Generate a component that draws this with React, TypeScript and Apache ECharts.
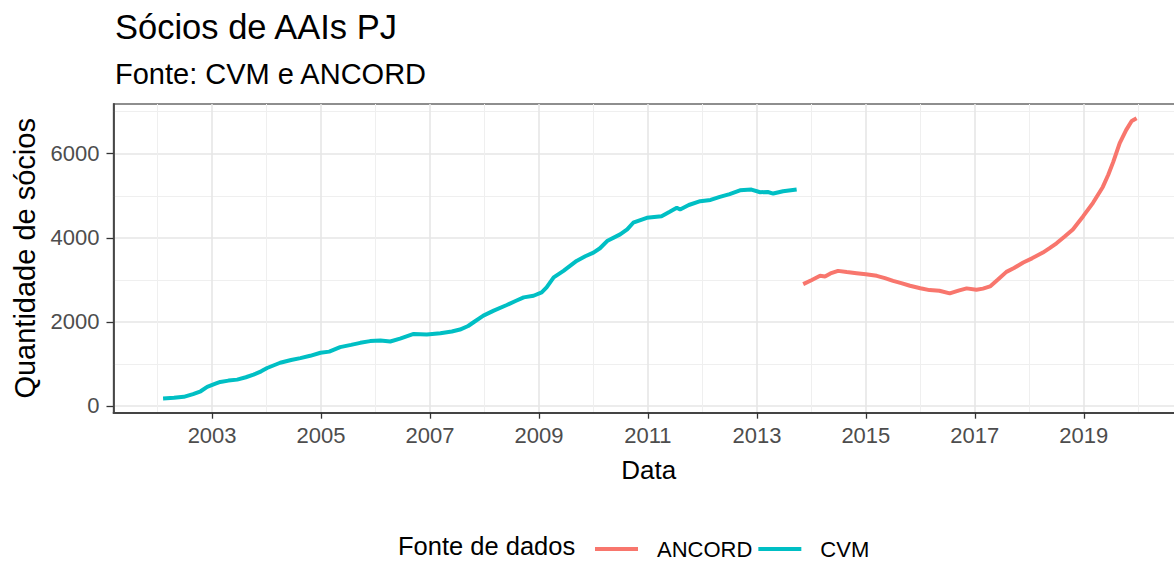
import React, { useEffect, useRef } from "react";
import * as echarts from "echarts";

// ---- Data (decimal years, number of partners) ----
const cvmYears = [
  2002.1, 2002.3, 2002.48, 2002.65, 2002.79, 2002.91, 2003.05, 2003.15, 2003.3, 2003.46,
  2003.62, 2003.76, 2003.9, 2004.01, 2004.25, 2004.45, 2004.62, 2004.8, 2004.99, 2005.15,
  2005.35, 2005.55, 2005.72, 2005.9, 2006.09, 2006.27, 2006.45, 2006.7, 2006.94, 2007.19,
  2007.4, 2007.55, 2007.7, 2007.8, 2007.98, 2008.17, 2008.41, 2008.58, 2008.72, 2008.9,
  2009.05, 2009.14, 2009.27, 2009.45, 2009.69, 2009.85, 2010.0, 2010.12, 2010.25, 2010.49,
  2010.62, 2010.73, 2010.98, 2011.25, 2011.4, 2011.53, 2011.59, 2011.75, 2011.96, 2012.15,
  2012.32, 2012.5, 2012.69, 2012.9, 2013.06, 2013.2, 2013.3, 2013.48, 2013.73,
];
const cvmValues = [
  175, 190, 213, 280, 346, 450, 520, 568, 600, 623,
  680, 741, 820, 900, 1025, 1090, 1136, 1190, 1262, 1290,
  1397, 1450, 1499, 1540, 1554, 1530, 1600, 1712, 1700, 1729,
  1770, 1815, 1900, 1989, 2146, 2265, 2400, 2500, 2581, 2620,
  2700, 2818, 3055, 3212, 3449, 3560, 3647, 3750, 3922, 4081,
  4200, 4358, 4476, 4514, 4620, 4713, 4673, 4780, 4870, 4900,
  4974, 5040, 5130, 5147, 5083, 5090, 5052, 5106, 5147,
];
const ancordYears = [
  2013.85, 2014.0, 2014.16, 2014.25, 2014.35, 2014.49, 2014.65, 2014.83, 2015.0, 2015.2,
  2015.35, 2015.5, 2015.65, 2015.81, 2016.0, 2016.17, 2016.35, 2016.54, 2016.7, 2016.85,
  2017.03, 2017.15, 2017.28, 2017.42, 2017.58, 2017.72, 2017.89, 2018.05, 2018.25, 2018.38,
  2018.5, 2018.65, 2018.8, 2018.99, 2019.17, 2019.35, 2019.45, 2019.54, 2019.66, 2019.78,
  2019.88, 2019.97,
];
const ancordValues = [
  2897, 2990, 3094, 3079, 3150, 3212, 3185, 3157, 3130, 3094,
  3040, 2975, 2920, 2857, 2800, 2754, 2738, 2676, 2740, 2795,
  2762, 2790, 2842, 3000, 3188, 3280, 3411, 3510, 3647, 3760,
  3868, 4030, 4199, 4514, 4832, 5210, 5500, 5800, 6253, 6568,
  6780, 6845,
];

const seriesNames = ["ANCORD", "CVM"];
const seriesColors = ["#F8766D", "#00BFC4"];
const xMajorTicks = [2003, 2005, 2007, 2009, 2011, 2013, 2015, 2017, 2019];
const xMinorTicks = [2002, 2004, 2006, 2008, 2010, 2012, 2014, 2016, 2018, 2020];
const yMajorTicks = [0, 2000, 4000, 6000];
const yMinorTicks = [1000, 3000, 5000, 7000];

const X_MIN = 2001.19;
const X_MAX = 2020.84;
const Y_MIN = -164;
const Y_MAX = 7184;

const FONT = "'Liberation Sans', Arial, Helvetica, sans-serif";

export default function App() {
  const ref = useRef<HTMLDivElement>(null);

  useEffect(() => {
    if (!ref.current) return;
    const chart = echarts.init(ref.current, undefined, { renderer: "svg" });

    const toPairs = (xs: number[], ys: number[]) => xs.map((x, i) => [x, ys[i]]);

    const option: any = {
      animation: false,
      backgroundColor: "#ffffff",
      textStyle: { fontFamily: FONT },
      title: {
        text: "Sócios de AAIs PJ",
        subtext: "Fonte: CVM e ANCORD",
        left: 110,
        top: 4,
        itemGap: 15,
        textStyle: { fontFamily: FONT, fontSize: 34.5, fontWeight: "normal", color: "#000000" },
        subtextStyle: { fontFamily: FONT, fontSize: 29, color: "#000000" },
      },
      legend: {
        data: seriesNames,
        left: 590,
        top: 533,
        itemWidth: 43,
        itemHeight: 4,
        itemGap: 6,
        icon: "rect",
        formatter: (name: string) => `{g|}{n|${name}}`,
        textStyle: {
          fontFamily: FONT,
          fontSize: 22,
          color: "#000000",
          rich: {
            g: { width: 14, height: 22 },
            n: { fontFamily: FONT, fontSize: 22, color: "#000000", height: 22 },
          },
        },
      },
      graphic: [
        {
          type: "text",
          x: 398,
          y: 546,
          style: {
            text: "Fonte de dados",
            font: `25.5px ${FONT}`,
            fill: "#000000",
            verticalAlign: "middle",
            align: "left",
          },
        },
      ],
      grid: {
        left: 113.5,
        right: 16,
        top: 104,
        bottom: 148.3,
        show: true,
        borderColor: "#6a6a6a",
        borderWidth: 1.4,
        backgroundColor: "transparent",
      },
      xAxis: [
        {
          type: "value",
          min: X_MIN,
          max: X_MAX,
          name: "Data",
          nameLocation: "middle",
          nameGap: 44,
          nameTextStyle: { fontFamily: FONT, fontSize: 26, color: "#000000" },
          axisLine: { show: true, onZero: false, lineStyle: { color: "#444444", width: 1.8 } },
          axisTick: { show: true, length: 6, lineStyle: { color: "#333333", width: 1.3 }, customValues: xMajorTicks },
          axisLabel: {
            show: true,
            margin: 12,
            fontFamily: FONT,
            fontSize: 22,
            color: "#4D4D4D",
            customValues: xMajorTicks,
            formatter: (v: number) => String(Math.round(v)),
          },
          splitLine: { show: true, lineStyle: { color: "#E6E6E6", width: 1.6 } },
        },
        {
          type: "value",
          min: X_MIN,
          max: X_MAX,
          position: "top",
          axisLine: { show: false },
          axisTick: { show: false, customValues: xMinorTicks },
          axisLabel: { show: false, customValues: xMinorTicks },
          splitLine: { show: true, lineStyle: { color: "#EFEFEF", width: 1 } },
        },
      ],
      yAxis: [
        {
          type: "value",
          min: Y_MIN,
          max: Y_MAX,
          name: "Quantidade de sócios",
          nameLocation: "middle",
          nameRotate: 90,
          nameGap: 74,
          nameTextStyle: { fontFamily: FONT, fontSize: 29, color: "#000000" },
          axisLine: { show: true, lineStyle: { color: "#444444", width: 1.8 } },
          axisTick: { show: true, length: 7, lineStyle: { color: "#333333", width: 1.3 }, customValues: yMajorTicks },
          axisLabel: {
            show: true,
            margin: 14,
            fontFamily: FONT,
            fontSize: 22,
            color: "#4D4D4D",
            customValues: yMajorTicks,
            formatter: (v: number) => String(Math.round(v)),
          },
          splitLine: { show: true, lineStyle: { color: "#E6E6E6", width: 1.6 } },
        },
        {
          type: "value",
          min: Y_MIN,
          max: Y_MAX,
          position: "right",
          axisLine: { show: false },
          axisTick: { show: false, customValues: yMinorTicks },
          axisLabel: { show: false, customValues: yMinorTicks },
          splitLine: { show: true, lineStyle: { color: "#EFEFEF", width: 1 } },
        },
      ],
      series: [
        {
          name: seriesNames[0],
          type: "line",
          data: toPairs(ancordYears, ancordValues),
          showSymbol: false,
          symbol: "none",
          smooth: false,
          itemStyle: { color: seriesColors[0] },
          lineStyle: { color: seriesColors[0], width: 4 },
          z: 3,
        },
        {
          name: seriesNames[1],
          type: "line",
          data: toPairs(cvmYears, cvmValues),
          showSymbol: false,
          symbol: "none",
          smooth: false,
          itemStyle: { color: seriesColors[1] },
          lineStyle: { color: seriesColors[1], width: 4 },
          z: 3,
        },
      ],
    };

    chart.setOption(option);
    return () => chart.dispose();
  }, []);

  return (
    <div
      style={{
        position: "fixed",
        left: 0,
        top: 0,
        width: 1174,
        height: 561,
        overflow: "hidden",
        background: "#ffffff",
      }}
    >
      <div ref={ref} style={{ width: 1200, height: 561 }} />
    </div>
  );
}
